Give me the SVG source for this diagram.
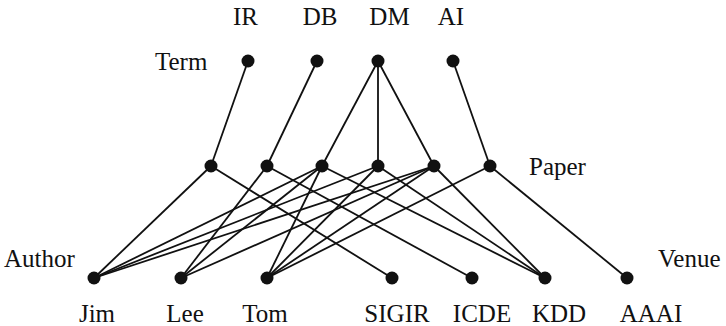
<svg xmlns="http://www.w3.org/2000/svg" width="726" height="326" viewBox="0 0 726 326">
<style>
.n{fill:#111}
.e{stroke:#111;stroke-width:1.8;fill:none}
text{font-family:"Liberation Serif","Times New Roman",serif;font-size:25px;fill:#111}
.c{text-anchor:middle}
</style>
<rect width="726" height="326" fill="#fff"/>
<g id="connectors" class="e">
<line x1="248" y1="61" x2="211" y2="166"/>
<line x1="317" y1="61" x2="267" y2="166"/>
<line x1="378" y1="61" x2="322" y2="166"/>
<line x1="378" y1="61" x2="378" y2="166"/>
<line x1="378" y1="61" x2="434" y2="166"/>
<line x1="453" y1="61" x2="490" y2="166"/>
<line x1="211" y1="166" x2="94" y2="278"/>
<line x1="211" y1="166" x2="392" y2="278"/>
<line x1="267" y1="166" x2="181" y2="278"/>
<line x1="267" y1="166" x2="472" y2="278"/>
<line x1="322" y1="166" x2="94" y2="278"/>
<line x1="322" y1="166" x2="181" y2="278"/>
<line x1="322" y1="166" x2="267" y2="278"/>
<line x1="322" y1="166" x2="545" y2="278"/>
<line x1="378" y1="166" x2="94" y2="278"/>
<line x1="378" y1="166" x2="267" y2="278"/>
<line x1="378" y1="166" x2="545" y2="278"/>
<line x1="434" y1="166" x2="94" y2="278"/>
<line x1="434" y1="166" x2="181" y2="278"/>
<line x1="434" y1="166" x2="267" y2="278"/>
<line x1="434" y1="166" x2="545" y2="278"/>
<line x1="490" y1="166" x2="267" y2="278"/>
<line x1="490" y1="166" x2="627" y2="278"/>
</g>
<g id="type-labels">
<text x="155" y="70">Term</text>
<text x="529" y="175">Paper</text>
<text x="4" y="267">Author</text>
<text x="658" y="267">Venue</text>
</g>
<g id="term-IR"><circle class="n" cx="248" cy="61" r="6.5"/><text class="c" x="245.5" y="25">IR</text></g>
<g id="term-DB"><circle class="n" cx="317" cy="61" r="6.5"/><text class="c" x="320" y="25">DB</text></g>
<g id="term-DM"><circle class="n" cx="378" cy="61" r="6.5"/><text class="c" x="389.5" y="25">DM</text></g>
<g id="term-AI"><circle class="n" cx="453" cy="61" r="6.5"/><text class="c" x="451" y="25">AI</text></g>
<g id="paper-1"><circle class="n" cx="211" cy="166" r="6.5"/></g>
<g id="paper-2"><circle class="n" cx="267" cy="166" r="6.5"/></g>
<g id="paper-3"><circle class="n" cx="322" cy="166" r="6.5"/></g>
<g id="paper-4"><circle class="n" cx="378" cy="166" r="6.5"/></g>
<g id="paper-5"><circle class="n" cx="434" cy="166" r="6.5"/></g>
<g id="paper-6"><circle class="n" cx="490" cy="166" r="6.5"/></g>
<g id="author-Jim"><circle class="n" cx="94" cy="278" r="6.5"/><text class="c" x="97" y="322">Jim</text></g>
<g id="author-Lee"><circle class="n" cx="181" cy="278" r="6.5"/><text class="c" x="185" y="322">Lee</text></g>
<g id="author-Tom"><circle class="n" cx="267" cy="278" r="6.5"/><text class="c" x="265" y="322">Tom</text></g>
<g id="venue-SIGIR"><circle class="n" cx="392" cy="278" r="6.5"/><text class="c" x="397" y="322">SIGIR</text></g>
<g id="venue-ICDE"><circle class="n" cx="472" cy="278" r="6.5"/><text class="c" x="482" y="322">ICDE</text></g>
<g id="venue-KDD"><circle class="n" cx="545" cy="278" r="6.5"/><text class="c" x="559" y="322">KDD</text></g>
<g id="venue-AAAI"><circle class="n" cx="627" cy="278" r="6.5"/><text class="c" x="651" y="322">AAAI</text></g>
</svg>
